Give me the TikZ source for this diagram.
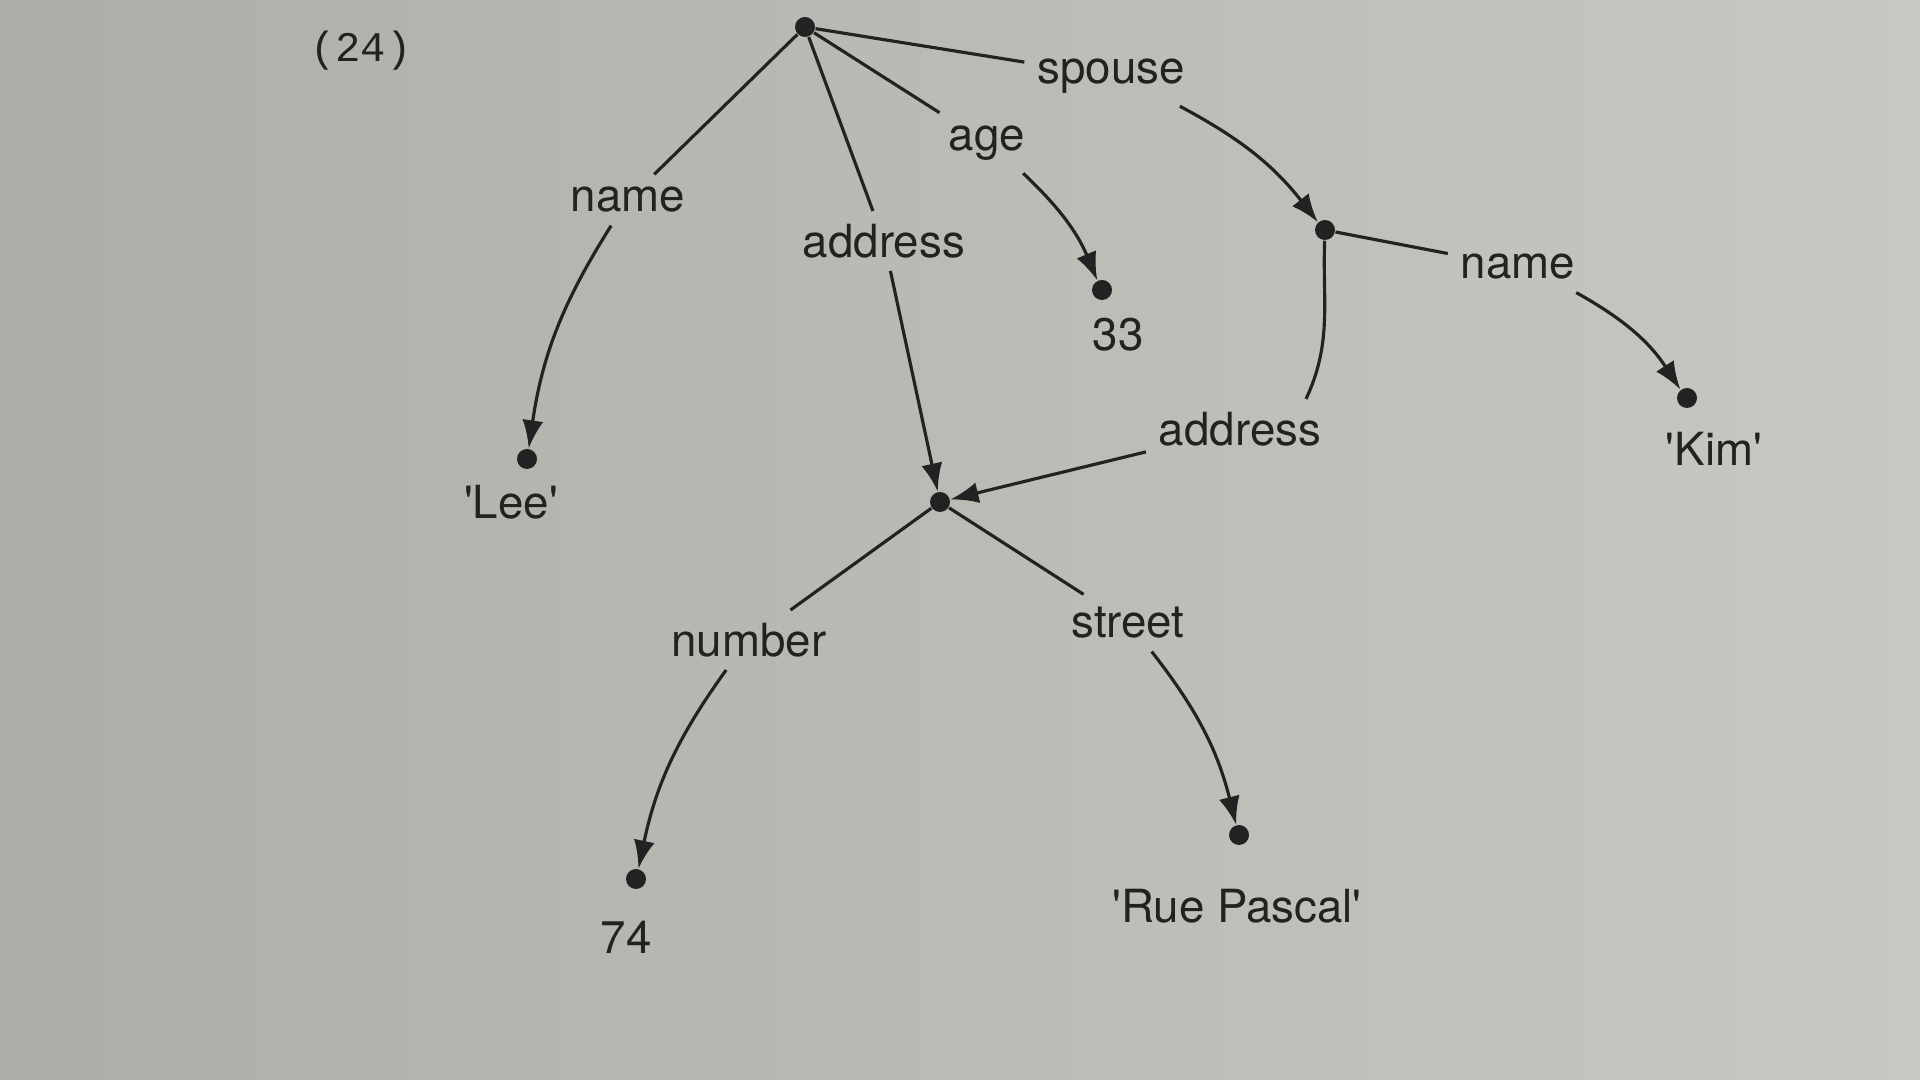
\documentclass[tikz,border=0pt]{standalone}
\usepackage{fontspec}
\setmainfont{TeX Gyre Heros}
\newfontfamily\exnofont{Liberation Mono}
\usetikzlibrary{arrows.meta}
\definecolor{paper}{RGB}{200,200,195}
\definecolor{paperdark}{RGB}{174,174,169}
\definecolor{ink}{RGB}{34,34,34}
\newcommand{\qmark}{\textquotesingle}

\begin{document}
\begin{tikzpicture}[
    dot/.style={circle, fill=ink, inner sep=0pt, minimum size=0.2cm},
    feat/.style={text=ink, font=\fontsize{13}{15}\selectfont, inner sep=3.5pt},
    val/.style={text=ink, font=\fontsize{13}{15}\selectfont, inner sep=1pt},
    arc/.style={draw=ink, line width=0.9pt},
    tip/.style={arc, -{Latex[length=8pt,width=6pt]}}
  ]
  \useasboundingbox (0,0) rectangle (19.2,10.8);
  \shade[left color=paperdark, right color=paper] (0,0) rectangle (19.2,10.8);

  % example number
  \node[text=ink, font=\exnofont\fontsize{12}{14}\selectfont] (exno) at (3.61,10.29) {(24)};

  % nodes of the structure
  \node[dot] (root) at (8.05,10.53) {};
  \node[dot] (lee) at (5.27,6.21) {};
  \node[dot] (adr) at (9.40,5.78) {};
  \node[dot] (v33) at (11.02,7.90) {};
  \node[dot] (sp) at (13.25,8.50) {};
  \node[dot] (kim) at (16.87,6.82) {};
  \node[dot] (v74) at (6.36,2.01) {};
  \node[dot] (rue) at (12.39,2.45) {};

  % values
  \node[val] (lee_t) at (5.11,5.78) {\qmark Lee\qmark};
  \node[val] (v33_t) at (11.18,7.45) {33};
  \node[val] (kim_t) at (17.14,6.31) {\qmark Kim\qmark};
  \node[val] (v74_t) at (6.26,1.43) {74};
  \node[val] (rue_t) at (12.37,1.74) {\qmark Rue Pascal\qmark};

  % feature labels
  \node[feat] (f_name) at (6.28,8.80) {name};
  \node[feat] (f_addr) at (8.84,8.39) {address};
  \node[feat] (f_age) at (9.87,9.37) {age};
  \node[feat] (f_spouse) at (11.11,10.04) {spouse};
  \node[feat] (f_sname) at (15.18,8.13) {name};
  \node[feat] (f_saddr) at (12.40,6.51) {address};
  \node[feat] (f_num) at (7.49,4.40) {number};
  \node[feat] (f_street) at (11.28,4.57) {street};

  % arcs
  \draw[arc] (root) -- (f_name);
  \draw[tip] (f_name) to[bend right=12] (lee);
  \draw[arc] (root) -- (f_addr);
  \draw[tip] (f_addr) -- (adr);
  \draw[arc] (root) -- (f_age);
  \draw[tip] (f_age) to[bend left=12] (v33);
  \draw[arc] (root) -- (f_spouse);
  \draw[tip] (f_spouse) to[bend left=12] (sp);
  \draw[arc] (sp) -- (f_sname);
  \draw[tip] (f_sname) to[bend left=14] (kim);
  \draw[arc] (sp) to[out=-92, in=65] ([xshift=-0.28cm]f_saddr.north east);
  \draw[tip] (f_saddr) -- (adr);
  \draw[arc] (adr) -- (f_num);
  \draw[tip] (f_num) to[bend right=12] (v74);
  \draw[arc] (adr) -- (f_street);
  \draw[tip] (f_street) to[bend left=12] (rue);
\end{tikzpicture}
\end{document}
